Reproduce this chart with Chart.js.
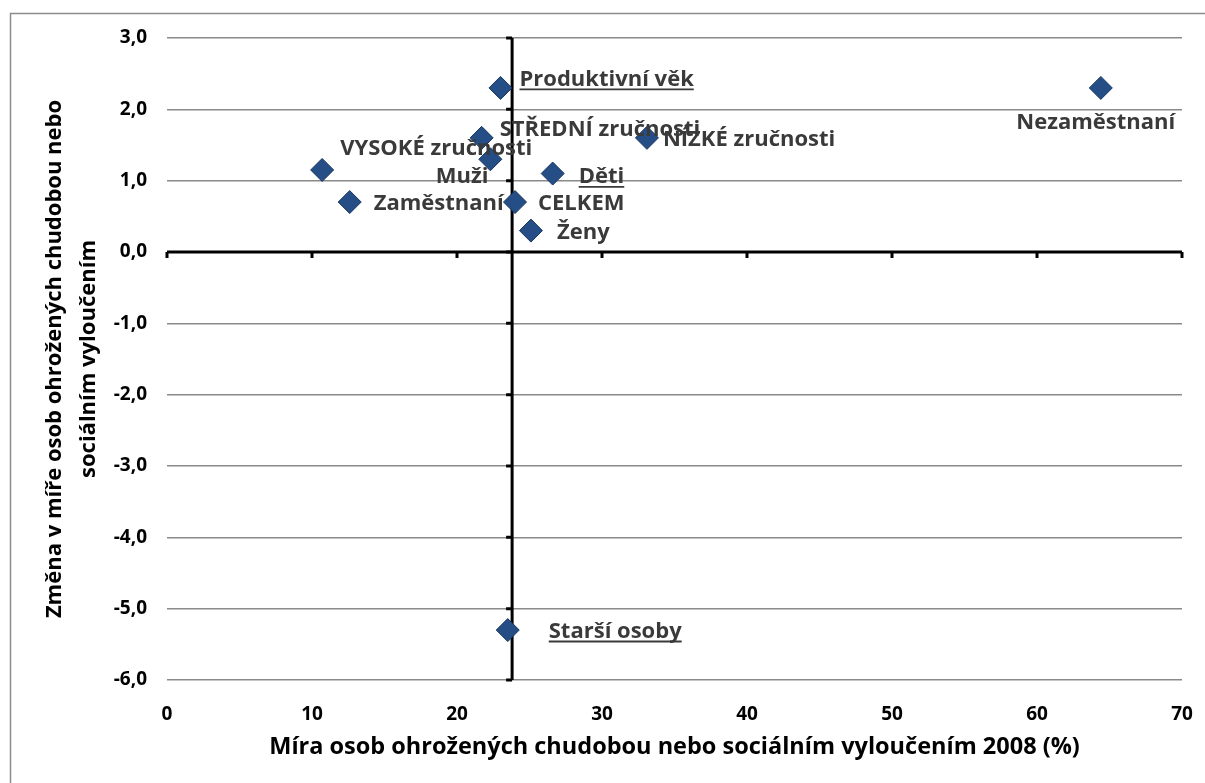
<!DOCTYPE html>
<html>
<head>
<meta charset="utf-8">
<script src="https://cdn.jsdelivr.net/npm/chart.js@4/dist/chart.umd.min.js"></script>
<style>
  html, body { margin: 0; padding: 0; background: #ffffff; }
  #wrap { width: 1205px; height: 783px; position: relative; }
</style>
</head>
<body>
<div id="wrap"><canvas id="scatterChart" width="1205" height="783"></canvas></div>
<script>
// Data
const groupNames = [
    "Produktivní věk", "Nezaměstnaní", "STŘEDNÍ zručnosti", "NÍZKÉ zručnosti",
    "VYSOKÉ zručnosti", "Muži", "Děti", "Zaměstnaní", "CELKEM", "Ženy", "Starší osoby"
];
const rate2008 = [23.0, 64.4, 21.7, 33.1, 10.7, 22.3, 26.6, 12.6, 24.0, 25.1, 23.5];
const rateChange = [2.3, 2.3, 1.6, 1.6, 1.15, 1.3, 1.1, 0.7, 0.7, 0.3, -5.3];
const xTicks = [0, 10, 20, 30, 40, 50, 60, 70];
const yTicks = [3, 2, 1, 0, -1, -2, -3, -4, -5, -6];
const verticalAxisAt = 23.8; // x value where the value axis crosses

// label placement next to each point (px), styling only
const labelPlace = [
    { align: "left", dx: 19, dy: -10, underline: true },
    { align: "center", dx: -5, dy: 33 },
    { align: "left", dx: 18, dy: -10 },
    { align: "left", dx: 16, dy: 0 },
    { align: "left", dx: 18, dy: -23 },
    { align: "right", dx: -2, dy: 16 },
    { align: "left", dx: 26, dy: 2, underline: true },
    { align: "left", dx: 24, dy: 0 },
    { align: "left", dx: 23, dy: 0 },
    { align: "left", dx: 26, dy: 0 },
    { align: "left", dx: 41, dy: 0, underline: true },
];

const FONT = "'Open Sans', Lato, sans-serif";
const LABEL_SIZE = 22;

// outer frame + crossing axes drawn on the library's scales
const crossAxes = {
    id: "crossAxes",
    beforeDraw(chart) {
        const ctx = chart.ctx;
        ctx.save();
        ctx.fillStyle = "#ffffff";
        ctx.fillRect(0, 0, chart.width, chart.height);
        ctx.strokeStyle = "#8c8c8c";
        ctx.lineWidth = 1.5;
        ctx.beginPath();
        ctx.moveTo(10.5, chart.height);
        ctx.lineTo(10.5, 13.5);
        ctx.lineTo(chart.width, 13.5);
        ctx.stroke();
        ctx.restore();
    },
    beforeDatasetsDraw(chart) {
        const { ctx, scales: { x, y } } = chart;
        const x0 = x.getPixelForValue(verticalAxisAt);
        const y0 = y.getPixelForValue(0);
        ctx.save();
        ctx.strokeStyle = "#000000";
        ctx.lineWidth = 3;
        ctx.lineCap = "butt";
        // horizontal axis at y = 0
        ctx.beginPath();
        ctx.moveTo(x.left, y0);
        ctx.lineTo(x.right, y0);
        xTicks.forEach((v) => {
            const px = x.getPixelForValue(v);
            ctx.moveTo(px, y0);
            ctx.lineTo(px, y0 + 6);
        });
        ctx.stroke();
        // vertical axis
        ctx.beginPath();
        ctx.moveTo(x0, y.top);
        ctx.lineTo(x0, y.bottom);
        yTicks.forEach((v) => {
            const py = y.getPixelForValue(v);
            ctx.moveTo(x0, py);
            ctx.lineTo(x0 - 6, py);
        });
        ctx.stroke();
        ctx.restore();
    },
    afterDatasetsDraw(chart) {
        const ctx = chart.ctx;
        const meta = chart.getDatasetMeta(0);
        ctx.save();
        ctx.font = "bold " + LABEL_SIZE + "px " + FONT;
        ctx.fillStyle = "#3a3a3a";
        ctx.strokeStyle = "#3a3a3a";
        ctx.textBaseline = "alphabetic";
        meta.data.forEach((pt, i) => {
            const p = labelPlace[i];
            const text = groupNames[i];
            const w = ctx.measureText(text).width;
            let left = pt.x + p.dx;
            if (p.align === "right") left = pt.x + p.dx - w;
            if (p.align === "center") left = pt.x + p.dx - w / 2;
            const base = pt.y + p.dy + LABEL_SIZE * 0.36;
            ctx.textAlign = "left";
            ctx.fillText(text, left, base);
            if (p.underline) {
                ctx.lineWidth = 1.8;
                ctx.beginPath();
                ctx.moveTo(left, base + 3.5);
                ctx.lineTo(left + w, base + 3.5);
                ctx.stroke();
            }
        });
        ctx.restore();
    },
};

const canvas = document.getElementById("scatterChart").getContext("2d");
const scatterChart = new Chart(canvas, {
    type: "scatter",
    data: {
        datasets: [
            {
                label: "Skupiny",
                data: rate2008.map((v, i) => ({ x: v, y: rateChange[i] })),
                pointStyle: "rectRot",
                pointRadius: 11.5,
                pointHoverRadius: 11.5,
                backgroundColor: "#254E86",
                borderColor: "#18365F",
                borderWidth: 1,
            },
        ],
    },
    options: {
        responsive: false,
        animation: false,
        devicePixelRatio: 1,
        layout: {
            autoPadding: false,
            padding: { left: 38, top: 38, right: 23, bottom: 20 },
        },
        plugins: {
            legend: { display: false },
            tooltip: { enabled: false },
        },
        scales: {
            x: {
                type: "linear",
                min: 0,
                max: 70,
                afterBuildTicks: (s) => { s.ticks = xTicks.map((v) => ({ value: v })); },
                afterFit: (s) => { s.height = 83; },
                ticks: {
                    color: "#000000",
                    padding: 0,
                    maxRotation: 0,
                    font: { family: FONT, size: 19, weight: "bold" },
                },
                grid: { display: false, drawTicks: true, tickLength: 23 },
                border: { display: false },
                title: {
                    display: true,
                    text: "Míra osob ohrožených chudobou nebo sociálním vyloučením 2008 (%)",
                    color: "#000000",
                    font: { family: FONT, size: 23.5, weight: "bold" },
                    padding: { top: 0, bottom: 2 },
                },
            },
            y: {
                type: "linear",
                min: -6,
                max: 3,
                afterBuildTicks: (s) => { s.ticks = yTicks.map((v) => ({ value: v })); },
                afterFit: (s) => { s.width = 129; },
                ticks: {
                    color: "#000000",
                    padding: 20,
                    font: { family: FONT, size: 19, weight: "bold" },
                    callback: (v) => v.toFixed(1).replace(".", ","),
                },
                grid: {
                    drawTicks: false,
                    color: (c) => (c.tick && c.tick.value === 0 ? "rgba(0,0,0,0)" : "#8a8a8a"),
                    lineWidth: 1.5,
                },
                border: { display: false },
                title: {
                    display: true,
                    text: ["Změna v míře osob ohrožených chudobou nebo", "sociálním vyloučením"],
                    color: "#000000",
                    font: { family: FONT, size: 22, weight: "bold", lineHeight: 1.55 },
                    padding: 0,
                },
            },
        },
    },
    plugins: [crossAxes],
});
</script>
</body>
</html>
